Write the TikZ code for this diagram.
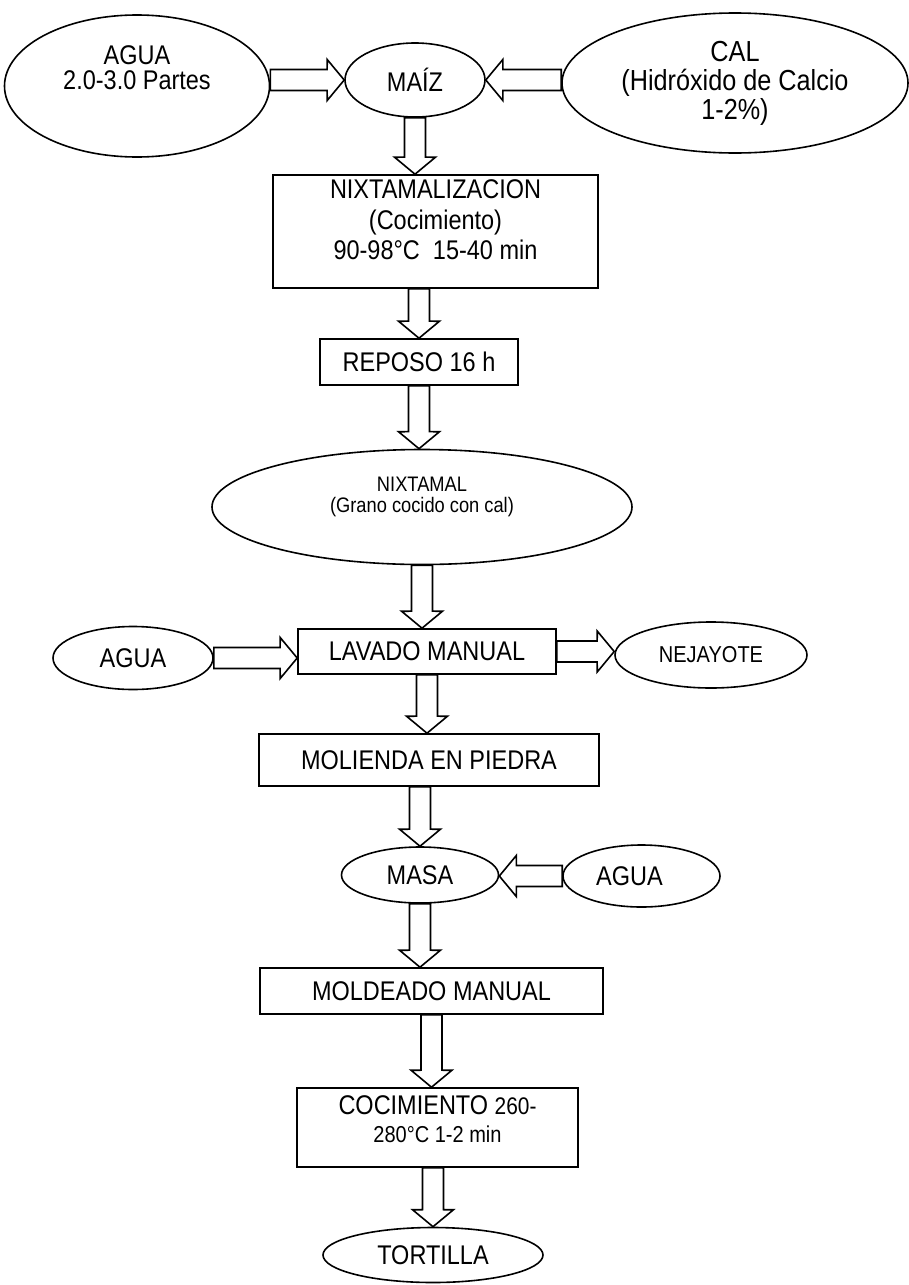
\documentclass[tikz,border=0pt]{standalone}
\usepackage{fontspec}
\setmainfont[FakeStretch=0.87]{Liberation Sans}
\usetikzlibrary{shapes.geometric, calc}

\begin{document}
\begin{tikzpicture}[x=1pt, y=-1pt,
        oval/.style={draw, ellipse, line width=1.6pt, inner sep=0pt, align=center, font=\fontsize{27}{24}\selectfont},
        box/.style={draw, line width=1.6pt, inner sep=0pt, align=center, font=\fontsize{27}{24}\selectfont},
        blk/.style={draw, fill=white, line width=1.6pt, to path={
            ($(\tikztostart)!10.5pt!90:(\tikztotarget)$)
            -- ($(\tikztotarget)!20pt!-31.7:(\tikztostart)$)
            -- ($(\tikztotarget)!26.6pt!-50.3:(\tikztostart)$)
            -- (\tikztotarget)
            -- ($(\tikztotarget)!26.6pt!50.3:(\tikztostart)$)
            -- ($(\tikztotarget)!20pt!31.7:(\tikztostart)$)
            -- ($(\tikztostart)!10.5pt!-90:(\tikztotarget)$)
            -- cycle}}]
    \useasboundingbox (0,0) rectangle (908,1285);
    % materias primas
    \node[oval, minimum width=265pt, minimum height=142pt, text depth=36pt] (agua) at (137,86) {AGUA\\[1pt]2.0-3.0 Partes};
    \node[oval, minimum width=140pt, minimum height=74pt] (maiz) at (415,80) {MAÍZ};
    \node[oval, minimum width=346pt, minimum height=140pt, font=\fontsize{29}{26}\selectfont] (cal) at (735,83) {CAL\\[3pt](Hidróxido de Calcio\\[1pt]1-2\%)};
    % proceso
    \node[box, minimum width=325pt, minimum height=113pt, text depth=24pt] (nixtamalizacion) at (435.5,231.5) {NIXTAMALIZACION\\[7pt](Cocimiento)\\[4pt]90-98°C\ \ 15-40 min};
    \node[box, minimum width=198pt, minimum height=46pt] (reposo) at (419,362) {REPOSO 16 h};
    \node[oval, minimum width=420pt, minimum height=115pt, text depth=25pt, font=\fontsize{21}{21}\selectfont] (nixtamal) at (422,507) {NIXTAMAL\\(Grano cocido con cal)};
    \node[oval, minimum width=160pt, minimum height=63pt] (aguab) at (133,658) {AGUA};
    \node[box, minimum width=258pt, minimum height=45pt] (lavado) at (427,651.5) {LAVADO MANUAL};
    \node[oval, minimum width=192pt, minimum height=66pt, font=\fontsize{23}{23}\selectfont] (nejayote) at (711,655) {NEJAYOTE};
    \node[box, minimum width=340pt, minimum height=52pt] (molienda) at (429,760) {MOLIENDA EN PIEDRA};
    \node[oval, minimum width=157pt, minimum height=56pt] (masa) at (420,875) {MASA};
    \node[oval, minimum width=157pt, minimum height=62pt] (aguac) at (641.5,876) {AGUA\hspace{24pt}};
    \node[box, minimum width=343pt, minimum height=46pt] (moldeado) at (431.5,991) {MOLDEADO MANUAL};
    \node[box, minimum width=281pt, minimum height=79pt, text depth=17pt] (coccion) at (437.5,1127.5) {COCIMIENTO {\fontsize{24}{24}\selectfont 260-}\\[4pt]{\fontsize{23}{23}\selectfont 280°C\ 1-2 min}};
    \node[oval, minimum width=220pt, minimum height=55pt] (tortilla) at (433,1255) {TORTILLA};
    % flechas
    \draw[blk] (agua.east |- maiz.west) to (maiz.west);
    \draw[blk] (cal.west |- maiz.east) to (maiz.east);
    \draw[blk] (aguab.east) to (lavado.west |- aguab.east);
    \draw[blk] (lavado.east) to (nejayote.west |- lavado.east);
    \draw[blk] (aguac.west) to (masa.east |- aguac.west);
    \foreach \s/\t/\a in {maiz/nixtamalizacion/maiz, nixtamalizacion/reposo/reposo, reposo/nixtamal/reposo,
                          nixtamal/lavado/nixtamal, lavado/molienda/lavado, molienda/masa/masa,
                          masa/moldeado/masa, moldeado/coccion/moldeado, coccion/tortilla/tortilla}
        \draw[blk] (\a.south |- \s.south) to (\a.south |- \t.north);
\end{tikzpicture}
\end{document}
